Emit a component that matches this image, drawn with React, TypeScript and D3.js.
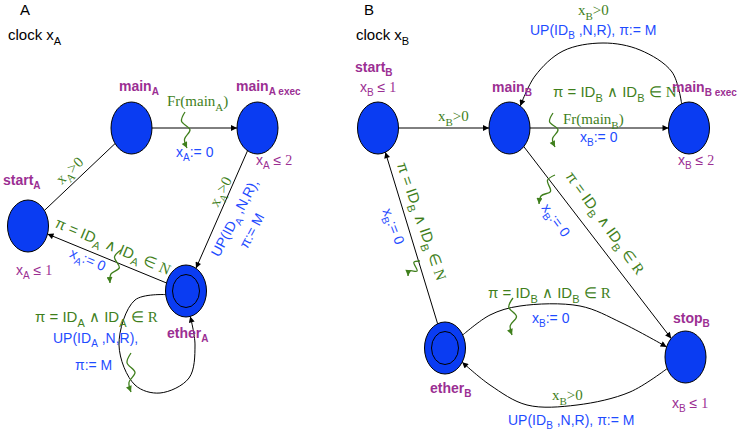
import React from "react";
import * as d3 from "d3";

// locations of the two automata
const locations = ["startA", "mainA", "mainAexec", "etherA", "startB", "mainB", "mainBexec", "etherB", "stopB"];
const committed = ["etherA", "etherB"];

// where each location sits on the page
const layout: Record<string, [number, number]> = {
  startA: [28, 226],
  mainA: [131.5, 128],
  mainAexec: [257.5, 128],
  etherA: [186, 291],
  startB: [378, 128],
  mainB: [509.5, 128],
  mainBexec: [689, 128],
  etherB: [445, 348],
  stopB: [685.5, 357],
};

// transitions: [from, to, arrow]
const transitions: [string, string, boolean][] = [
  ["startA", "mainA", false],
  ["mainA", "mainAexec", true],
  ["mainAexec", "etherA", true],
  ["etherA", "startA", true],
  ["etherA", "etherA", true],
  ["startB", "mainB", true],
  ["mainB", "mainBexec", true],
  ["mainBexec", "mainB", true],
  ["mainB", "stopB", true],
  ["etherB", "startB", true],
  ["etherB", "stopB", true],
  ["stopB", "etherB", true],
];

// bend points of the curved transitions (index into transitions)
const bends: Record<number, [number, number][]> = {
  4: [[135, 300], [119, 345], [135, 385], [160, 393], [189, 378], [195, 345]],
  7: [[672, 72], [640, 50], [603, 43], [563, 51], [535, 76]],
  10: [[490, 315], [520, 306], [580, 306], [622, 323]],
  11: [[630, 392], [577, 405], [527, 405], [490, 385]],
};

// sync arrows (wavy) [start, end]
const syncs: [[number, number], [number, number]][] = [
  [[185, 112], [187, 148]],
  [[121, 250], [110, 283]],
  [[131, 353], [131, 392]],
  [[553, 113], [555, 147]],
  [[420, 261], [408, 276]],
  [[555, 175], [539, 204]],
  [[513, 298], [512, 335]],
];

// text: "_{..}" subscript, "~" toggles serif
const titles = ["A", "clock x_{A}", "B", "clock x_{B}"];
const names = ["main_{A}", "main_{A exec}", "start_{A}", "ether_{A}", "start_{B}", "main_{B}", "main_{B exec}", "stop_{B}", "ether_{B}"];
const invariants = ["x_{A} ≤ ~1", "x_{A} ≤ ~2", "x_{B} ≤ ~1", "x_{B} ≤ ~2", "x_{B} ≤ ~1"];
const guards = ["~Fr(main_{A})", "~x_{A}>0", "~x_{A}>0", "π = ID_{A} ∧ ID_{A} ∈ ~N", "π = ID_{A} ∧ ID_{A} ∈ ~R",
  "~x_{B}>0", "~x_{B}>0", "π = ID_{B} ∧ ID_{B} ∈ ~N", "~Fr(main_{B})", "π = ID_{B} ∧ ID_{B} ∈ ~N",
  "π = ID_{B} ∧ ID_{B} ∈ ~R", "π = ID_{B} ∧ ID_{B} ∈ ~R", "~x_{B}>0"];
const updates = ["x_{A}:= 0", "UP(ID_{A} ,N,R),", "π:= M", "x_{A}:= 0", "UP(ID_{A} ,N,R),", "π:= M",
  "UP(ID_{B} ,N,R), π:= M", "x_{B}:= 0", "x_{B}:= 0", "x_{B}:= 0", "x_{B}:= 0", "UP(ID_{B} ,N,R), π:= M"];

const PURPLE = "#9b2f93";
const GREEN = "#3f7f1c";
const BLUE = "#1f4cff";
const FILL = "#0a3cf2";
const SANS = "'Liberation Sans', Arial, sans-serif";
const SERIF = "'Liberation Serif', 'Times New Roman', serif";

type Place = { x: number; y: number; r?: number; mid?: boolean };

const titlePos: Place[] = [{ x: 20, y: 15 }, { x: 8, y: 40 }, { x: 364, y: 15 }, { x: 356, y: 40 }];
const namePos: Place[] = [
  { x: 119, y: 91 }, { x: 236, y: 91 }, { x: 3, y: 185 }, { x: 167, y: 338 },
  { x: 355, y: 72 }, { x: 492, y: 92 }, { x: 672, y: 92 }, { x: 673, y: 323 }, { x: 430, y: 393 },
];
const invPos: Place[] = [{ x: 16, y: 275 }, { x: 256, y: 165 }, { x: 360, y: 92 }, { x: 678, y: 165 }, { x: 672, y: 408 }];
const guardPos: Place[] = [
  { x: 167, y: 106 },
  { x: 73, y: 174, r: -44, mid: true },
  { x: 225, y: 194, r: -62, mid: true },
  { x: 111, y: 251, r: 23, mid: true },
  { x: 35, y: 322 },
  { x: 438, y: 121 },
  { x: 578, y: 15 },
  { x: 553, y: 97 },
  { x: 563, y: 124 },
  { x: 417, y: 223, r: 71, mid: true },
  { x: 601, y: 226, r: 54, mid: true },
  { x: 488, y: 298 },
  { x: 552, y: 400 },
];
const updPos: Place[] = [
  { x: 176, y: 157 },
  { x: 239, y: 220, r: -62, mid: true },
  { x: 256, y: 233, r: -62, mid: true },
  { x: 86, y: 264, r: 23, mid: true },
  { x: 53, y: 343 },
  { x: 75, y: 370 },
  { x: 530, y: 35 },
  { x: 580, y: 142 },
  { x: 389, y: 228, r: 69, mid: true },
  { x: 552, y: 223, r: 54, mid: true },
  { x: 532, y: 323 },
  { x: 508, y: 425 },
];

const RX = 20.5;
const RY = 26;

function rim(id: string, toward: [number, number]): [number, number] {
  const [cx, cy] = layout[id];
  const dx = toward[0] - cx;
  const dy = toward[1] - cy;
  const t = 1 / Math.sqrt((dx / RX) ** 2 + (dy / RY) ** 2);
  return [cx + dx * t, cy + dy * t];
}

function parse(s: string) {
  const out: { t: string; sub: boolean; serif: boolean }[] = [];
  let serif = false;
  let i = 0;
  let buf = "";
  const flush = (sub: boolean) => {
    if (buf) out.push({ t: buf, sub, serif });
    buf = "";
  };
  while (i < s.length) {
    const c = s[i];
    if (c === "~") {
      flush(false);
      serif = !serif;
      i++;
    } else if (c === "_" && s[i + 1] === "{") {
      flush(false);
      const end = s.indexOf("}", i);
      buf = s.slice(i + 2, end);
      flush(true);
      i = end + 1;
    } else {
      buf += c;
      i++;
    }
  }
  flush(false);
  return out;
}

function Label({ text, p, color, size, bold }: { text: string; p: Place; color: string; size: number; bold?: boolean }) {
  const segs = parse(text);
  const sub = Math.round(size * 0.7);
  const drop = size * 0.3;
  let low = false;
  return (
    <text
      transform={`translate(${p.x},${p.y})${p.r ? ` rotate(${p.r})` : ""}`}
      textAnchor={p.mid ? "middle" : "start"}
      fill={color}
      fontSize={size}
      fontWeight={bold ? "bold" : "normal"}
      fontFamily={SANS}
    >
      {segs.map((s, k) => {
        let dy = 0;
        if (s.sub && !low) { dy = drop; low = true; }
        else if (!s.sub && low) { dy = -drop; low = false; }
        return (
          <tspan key={k} dy={dy || undefined} fontSize={s.sub ? sub : size} fontFamily={s.serif ? SERIF : SANS}>
            {s.t}
          </tspan>
        );
      })}
    </text>
  );
}

const curved = d3.line().curve(d3.curveCatmullRom.alpha(0.5));

function wave(a: [number, number], b: [number, number]) {
  const dx = b[0] - a[0];
  const dy = b[1] - a[1];
  const len = Math.hypot(dx, dy);
  const nx = -dy / len;
  const ny = dx / len;
  const amp = [0, 4, -4, 2, 0];
  const pts = amp.map((o, k) => [a[0] + (dx * k) / 4 + nx * o, a[1] + (dy * k) / 4 + ny * o] as [number, number]);
  return curved(pts) || "";
}

export default function App() {
  const edgePaths = transitions.map(([from, to, arrow], i) => {
    const via = bends[i];
    let pts: [number, number][];
    if (via) {
      pts = [rim(from, via[0]), ...via, rim(to, via[via.length - 1])];
    } else {
      pts = [rim(from, layout[to]), rim(to, layout[from])];
    }
    return { d: via ? curved(pts) || "" : d3.line()(pts) || "", arrow };
  });

  return (
    <svg width={739} height={438} style={{ position: "absolute", left: 0, top: 0, background: "#fff" }}>
      <defs>
        <marker id="head" viewBox="0 0 10 10" refX={10} refY={5} markerWidth={9} markerHeight={6} markerUnits="userSpaceOnUse" orient="auto">
          <path d="M0,0 L10,5 L0,10 z" fill="#000" />
        </marker>
        <marker id="ghead" viewBox="0 0 10 10" refX={10} refY={5} markerWidth={9} markerHeight={6} markerUnits="userSpaceOnUse" orient="auto">
          <path d="M0,0 L10,5 L0,10 z" fill={GREEN} />
        </marker>
      </defs>

      {edgePaths.map((e, i) => (
        <path key={i} d={e.d} fill="none" stroke="#000" strokeWidth={1} markerEnd={e.arrow ? "url(#head)" : undefined} />
      ))}

      {locations.map((id) => (
        <g key={id} transform={`translate(${layout[id][0]},${layout[id][1]})`}>
          <ellipse rx={RX} ry={RY} fill={FILL} stroke="#000" strokeWidth={1} />
          {committed.includes(id) && <ellipse rx={13.5} ry={16.5} fill="none" stroke="#000" strokeWidth={1} />}
        </g>
      ))}

      {syncs.map(([a, b], i) => (
        <path key={i} d={wave(a, b)} fill="none" stroke={GREEN} strokeWidth={1.3} markerEnd="url(#ghead)" />
      ))}

      {titles.map((t, i) => <Label key={i} text={t} p={titlePos[i]} color="#000" size={15} />)}
      {names.map((t, i) => <Label key={i} text={t} p={namePos[i]} color={PURPLE} size={14} bold />)}
      {invariants.map((t, i) => <Label key={i} text={t} p={invPos[i]} color={PURPLE} size={14} />)}
      {guards.map((t, i) => <Label key={i} text={t} p={guardPos[i]} color={GREEN} size={15} />)}
      {updates.map((t, i) => <Label key={i} text={t} p={updPos[i]} color={BLUE} size={14} />)}
    </svg>
  );
}
